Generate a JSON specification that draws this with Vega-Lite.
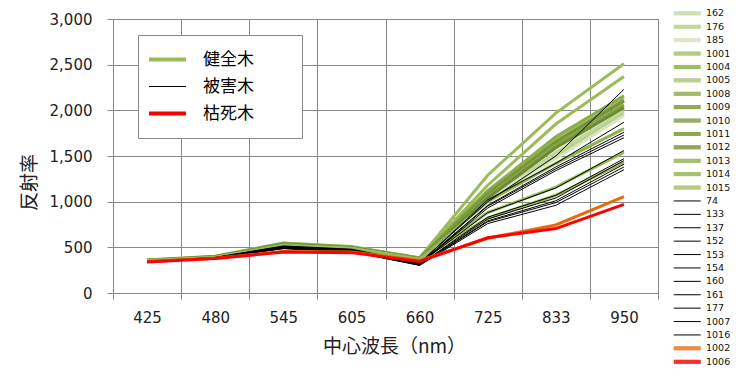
{
  "$schema": "https://vega.github.io/schema/vega-lite/v6.json",
  "autosize": {"type": "none"},
  "padding": {"left": 113, "top": 19, "right": 87, "bottom": 84},
  "width": 545,
  "height": 274,
  "background": "white",
  "datasets": {
    "grp": [
      {"s": "162", "g": "健全木"}, {"s": "176", "g": "健全木"}, {"s": "185", "g": "健全木"},
      {"s": "1001", "g": "健全木"}, {"s": "1004", "g": "健全木"}, {"s": "1005", "g": "健全木"},
      {"s": "1008", "g": "健全木"}, {"s": "1009", "g": "健全木"}, {"s": "1010", "g": "健全木"},
      {"s": "1011", "g": "健全木"}, {"s": "1012", "g": "健全木"}, {"s": "1013", "g": "健全木"},
      {"s": "1014", "g": "健全木"}, {"s": "1015", "g": "健全木"},
      {"s": "74", "g": "被害木"}, {"s": "133", "g": "被害木"}, {"s": "137", "g": "被害木"},
      {"s": "152", "g": "被害木"}, {"s": "153", "g": "被害木"}, {"s": "154", "g": "被害木"},
      {"s": "160", "g": "被害木"}, {"s": "161", "g": "被害木"}, {"s": "177", "g": "被害木"},
      {"s": "1007", "g": "被害木"}, {"s": "1016", "g": "被害木"},
      {"s": "1002", "g": "枯死木"}, {"s": "1006", "g": "枯死木"}
    ],
    "main": [
      {"s":"162","w":"425","r":358},{"s":"162","w":"480","r":398},{"s":"162","w":"545","r":535},{"s":"162","w":"605","r":500},{"s":"162","w":"660","r":378},{"s":"162","w":"725","r":1020},{"s":"162","w":"833","r":1540},{"s":"162","w":"950","r":1990},
      {"s":"176","w":"425","r":356},{"s":"176","w":"480","r":396},{"s":"176","w":"545","r":532},{"s":"176","w":"605","r":497},{"s":"176","w":"660","r":376},{"s":"176","w":"725","r":1000},{"s":"176","w":"833","r":1500},{"s":"176","w":"950","r":1960},
      {"s":"185","w":"425","r":354},{"s":"185","w":"480","r":394},{"s":"185","w":"545","r":528},{"s":"185","w":"605","r":494},{"s":"185","w":"660","r":372},{"s":"185","w":"725","r":1050},{"s":"185","w":"833","r":1470},{"s":"185","w":"950","r":1940},
      {"s":"1001","w":"425","r":362},{"s":"1001","w":"480","r":402},{"s":"1001","w":"545","r":548},{"s":"1001","w":"605","r":508},{"s":"1001","w":"660","r":385},{"s":"1001","w":"725","r":1290},{"s":"1001","w":"833","r":1970},{"s":"1001","w":"950","r":2510},
      {"s":"1004","w":"425","r":360},{"s":"1004","w":"480","r":400},{"s":"1004","w":"545","r":545},{"s":"1004","w":"605","r":505},{"s":"1004","w":"660","r":383},{"s":"1004","w":"725","r":1180},{"s":"1004","w":"833","r":1850},{"s":"1004","w":"950","r":2370},
      {"s":"1005","w":"425","r":357},{"s":"1005","w":"480","r":398},{"s":"1005","w":"545","r":540},{"s":"1005","w":"605","r":502},{"s":"1005","w":"660","r":380},{"s":"1005","w":"725","r":1110},{"s":"1005","w":"833","r":1690},{"s":"1005","w":"950","r":2140},
      {"s":"1008","w":"425","r":358},{"s":"1008","w":"480","r":399},{"s":"1008","w":"545","r":542},{"s":"1008","w":"605","r":503},{"s":"1008","w":"660","r":381},{"s":"1008","w":"725","r":1120},{"s":"1008","w":"833","r":1710},{"s":"1008","w":"950","r":2160},
      {"s":"1009","w":"425","r":356},{"s":"1009","w":"480","r":397},{"s":"1009","w":"545","r":538},{"s":"1009","w":"605","r":500},{"s":"1009","w":"660","r":379},{"s":"1009","w":"725","r":1090},{"s":"1009","w":"833","r":1660},{"s":"1009","w":"950","r":2110},
      {"s":"1010","w":"425","r":355},{"s":"1010","w":"480","r":396},{"s":"1010","w":"545","r":536},{"s":"1010","w":"605","r":498},{"s":"1010","w":"660","r":377},{"s":"1010","w":"725","r":1080},{"s":"1010","w":"833","r":1650},{"s":"1010","w":"950","r":2100},
      {"s":"1011","w":"425","r":354},{"s":"1011","w":"480","r":395},{"s":"1011","w":"545","r":534},{"s":"1011","w":"605","r":497},{"s":"1011","w":"660","r":376},{"s":"1011","w":"725","r":1060},{"s":"1011","w":"833","r":1620},{"s":"1011","w":"950","r":2060},
      {"s":"1012","w":"425","r":353},{"s":"1012","w":"480","r":394},{"s":"1012","w":"545","r":530},{"s":"1012","w":"605","r":495},{"s":"1012","w":"660","r":374},{"s":"1012","w":"725","r":1040},{"s":"1012","w":"833","r":1590},{"s":"1012","w":"950","r":2030},
      {"s":"1013","w":"425","r":352},{"s":"1013","w":"480","r":392},{"s":"1013","w":"545","r":525},{"s":"1013","w":"605","r":490},{"s":"1013","w":"660","r":370},{"s":"1013","w":"725","r":1000},{"s":"1013","w":"833","r":1420},{"s":"1013","w":"950","r":1800},
      {"s":"1014","w":"425","r":350},{"s":"1014","w":"480","r":390},{"s":"1014","w":"545","r":520},{"s":"1014","w":"605","r":488},{"s":"1014","w":"660","r":368},{"s":"1014","w":"725","r":880},{"s":"1014","w":"833","r":1160},{"s":"1014","w":"950","r":1540},
      {"s":"1015","w":"425","r":350},{"s":"1015","w":"480","r":390},{"s":"1015","w":"545","r":518},{"s":"1015","w":"605","r":486},{"s":"1015","w":"660","r":366},{"s":"1015","w":"725","r":820},{"s":"1015","w":"833","r":1070},{"s":"1015","w":"950","r":1430},
      {"s":"74","w":"425","r":350},{"s":"74","w":"480","r":390},{"s":"74","w":"545","r":515},{"s":"74","w":"605","r":480},{"s":"74","w":"660","r":330},{"s":"74","w":"725","r":1000},{"s":"74","w":"833","r":1500},{"s":"74","w":"950","r":2230},
      {"s":"133","w":"425","r":348},{"s":"133","w":"480","r":388},{"s":"133","w":"545","r":510},{"s":"133","w":"605","r":475},{"s":"133","w":"660","r":325},{"s":"133","w":"725","r":1020},{"s":"133","w":"833","r":1420},{"s":"133","w":"950","r":1870},
      {"s":"137","w":"425","r":347},{"s":"137","w":"480","r":387},{"s":"137","w":"545","r":505},{"s":"137","w":"605","r":470},{"s":"137","w":"660","r":320},{"s":"137","w":"725","r":960},{"s":"137","w":"833","r":1380},{"s":"137","w":"950","r":1760},
      {"s":"152","w":"425","r":346},{"s":"152","w":"480","r":386},{"s":"152","w":"545","r":500},{"s":"152","w":"605","r":468},{"s":"152","w":"660","r":318},{"s":"152","w":"725","r":950},{"s":"152","w":"833","r":1360},{"s":"152","w":"950","r":1730},
      {"s":"153","w":"425","r":345},{"s":"153","w":"480","r":385},{"s":"153","w":"545","r":498},{"s":"153","w":"605","r":465},{"s":"153","w":"660","r":315},{"s":"153","w":"725","r":930},{"s":"153","w":"833","r":1340},{"s":"153","w":"950","r":1700},
      {"s":"154","w":"425","r":347},{"s":"154","w":"480","r":387},{"s":"154","w":"545","r":502},{"s":"154","w":"605","r":470},{"s":"154","w":"660","r":320},{"s":"154","w":"725","r":880},{"s":"154","w":"833","r":1150},{"s":"154","w":"950","r":1560},
      {"s":"160","w":"425","r":345},{"s":"160","w":"480","r":385},{"s":"160","w":"545","r":495},{"s":"160","w":"605","r":462},{"s":"160","w":"660","r":312},{"s":"160","w":"725","r":830},{"s":"160","w":"833","r":1070},{"s":"160","w":"950","r":1470},
      {"s":"161","w":"425","r":344},{"s":"161","w":"480","r":384},{"s":"161","w":"545","r":492},{"s":"161","w":"605","r":460},{"s":"161","w":"660","r":310},{"s":"161","w":"725","r":810},{"s":"161","w":"833","r":1040},{"s":"161","w":"950","r":1450},
      {"s":"177","w":"425","r":343},{"s":"177","w":"480","r":383},{"s":"177","w":"545","r":490},{"s":"177","w":"605","r":456},{"s":"177","w":"660","r":307},{"s":"177","w":"725","r":790},{"s":"177","w":"833","r":1010},{"s":"177","w":"950","r":1410},
      {"s":"1007","w":"425","r":344},{"s":"1007","w":"480","r":384},{"s":"1007","w":"545","r":488},{"s":"1007","w":"605","r":455},{"s":"1007","w":"660","r":305},{"s":"1007","w":"725","r":780},{"s":"1007","w":"833","r":990},{"s":"1007","w":"950","r":1380},
      {"s":"1016","w":"425","r":342},{"s":"1016","w":"480","r":382},{"s":"1016","w":"545","r":485},{"s":"1016","w":"605","r":452},{"s":"1016","w":"660","r":302},{"s":"1016","w":"725","r":760},{"s":"1016","w":"833","r":960},{"s":"1016","w":"950","r":1350},
      {"s":"1002","w":"425","r":345},{"s":"1002","w":"480","r":380},{"s":"1002","w":"545","r":455},{"s":"1002","w":"605","r":450},{"s":"1002","w":"660","r":355},{"s":"1002","w":"725","r":600},{"s":"1002","w":"833","r":745},{"s":"1002","w":"950","r":1055},
      {"s":"1006","w":"425","r":340},{"s":"1006","w":"480","r":378},{"s":"1006","w":"545","r":448},{"s":"1006","w":"605","r":442},{"s":"1006","w":"660","r":345},{"s":"1006","w":"725","r":605},{"s":"1006","w":"833","r":705},{"s":"1006","w":"950","r":970}
    ]
  },
  "data": {"name": "main"},
  "encoding": {
    "x": {
      "field": "w", "type": "ordinal", "bandPosition": 0.5,
      "scale": {"type": "band", "paddingInner": 0, "paddingOuter": 0},
      "axis": {"labelAngle": 0, "tickBand": "extent", "labelPadding": 11, "title": "中心波長（nm）", "titlePadding": 12, "titleX": 281, "titleAlign": "center"}
    },
    "y": {
      "field": "r", "type": "quantitative",
      "scale": {"domain": [0, 3000], "nice": false},
      "axis": {"values": [0, 500, 1000, 1500, 2000, 2500, 3000], "format": ",d", "labelPadding": 15, "title": "反射率", "titleAngle": -90, "titleX": -84, "titleY": 163, "titleAlign": "center", "titleBaseline": "middle"}
    }
  },
  "layer": [
    {
      "transform": [
        {"lookup": "s", "from": {"data": {"name": "grp"}, "key": "s", "fields": ["g"]}}
      ],
      "mark": {"type": "line", "opacity": 0},
      "encoding": {
        "stroke": {
          "field": "g", "type": "nominal",
          "scale": {"domain": ["健全木", "被害木", "枯死木"], "range": ["#9bbb59", "#000000", "#ff0000"]},
          "legend": {
            "title": null, "orient": "none", "legendX": 25, "legendY": 16,
            "symbolType": "M-4.625,0H4.625M27.4,0H27.4", "symbolSize": 64, "symbolOpacity": 1, "symbolOffset": 5,
            "labelFont": "Noto Sans CJK JP", "labelFontSize": 17, "labelColor": "#000", "labelOffset": 27,
            "rowPadding": 9, "padding": 16, "strokeColor": "#888", "fillColor": "white",
            "encode": {"symbols": {"update": {"size": {"value": 64}, "strokeWidth": {"signal": "datum.value === '被害木' ? 1 : 4"}}}}
          }
        }
      }
    },
    {
      "mark": {"type": "line"},
      "encoding": {
        "color": {
          "field": "s", "type": "nominal",
          "scale": {
            "domain": ["162","176","185","1001","1004","1005","1008","1009","1010","1011","1012","1013","1014","1015","74","133","137","152","153","154","160","161","177","1007","1016","1002","1006"],
            "range": ["#c3d69b","#b5cf88","#d7e4bd","#9bbb59","#9bbb59","#a5c26c","#8aac49","#7f9f3f","#77933c","#86a446","#6e8b34","#8db24f","#98ba5a","#9bbb59","#000000","#000000","#000000","#000000","#000000","#000000","#000000","#000000","#000000","#000000","#000000","#e46c0a","#ff0000"]
          },
          "legend": {
            "title": null, "orient": "none", "legendX": 562, "legendY": -10.4,
            "symbolType": "M-4.5,0H4.5", "symbolSize": 36, "symbolOffset": 7.5, "symbolStrokeWidth": 1, "padding": 0,
            "labelFont": "DejaVu Sans", "labelFontSize": 9.5, "labelColor": "#111", "labelOffset": 14,
            "rowPadding": 2.4,
            "encode": {"symbols": {"update": {"size": {"value": 36}, "strokeWidth": {"value": 1}, "shape": {"signal": "indexof(['74','133','137','152','153','154','160','161','177','1007','1016'], datum.value) >= 0 ? 'M-4.5,0H4.5' : 'M-4.5,-0.5H4.5M-4.5,-0.17H4.5M-4.5,0.17H4.5M-4.5,0.5H4.5'"}}}}
          }
        },
        "strokeWidth": {
          "condition": {"test": "indexof(['74','133','137','152','153','154','160','161','177','1007','1016'], datum.s) >= 0", "value": 1},
          "value": 3
        }
      }
    }
  ],
  "config": {
    "font": "DejaVu Sans",
    "view": {"stroke": "#888", "strokeWidth": 1},
    "axis": {
      "domainColor": "#888", "tickColor": "#888", "gridColor": "#888", "gridOpacity": 1, "grid": true,
      "labelColor": "#222", "labelFont": "DejaVu Sans", "labelFontSize": 15,
      "titleFont": "Noto Sans CJK JP", "titleFontWeight": "normal", "titleFontSize": 19, "titleColor": "#222",
      "tickSize": 6
    }
  }
}
